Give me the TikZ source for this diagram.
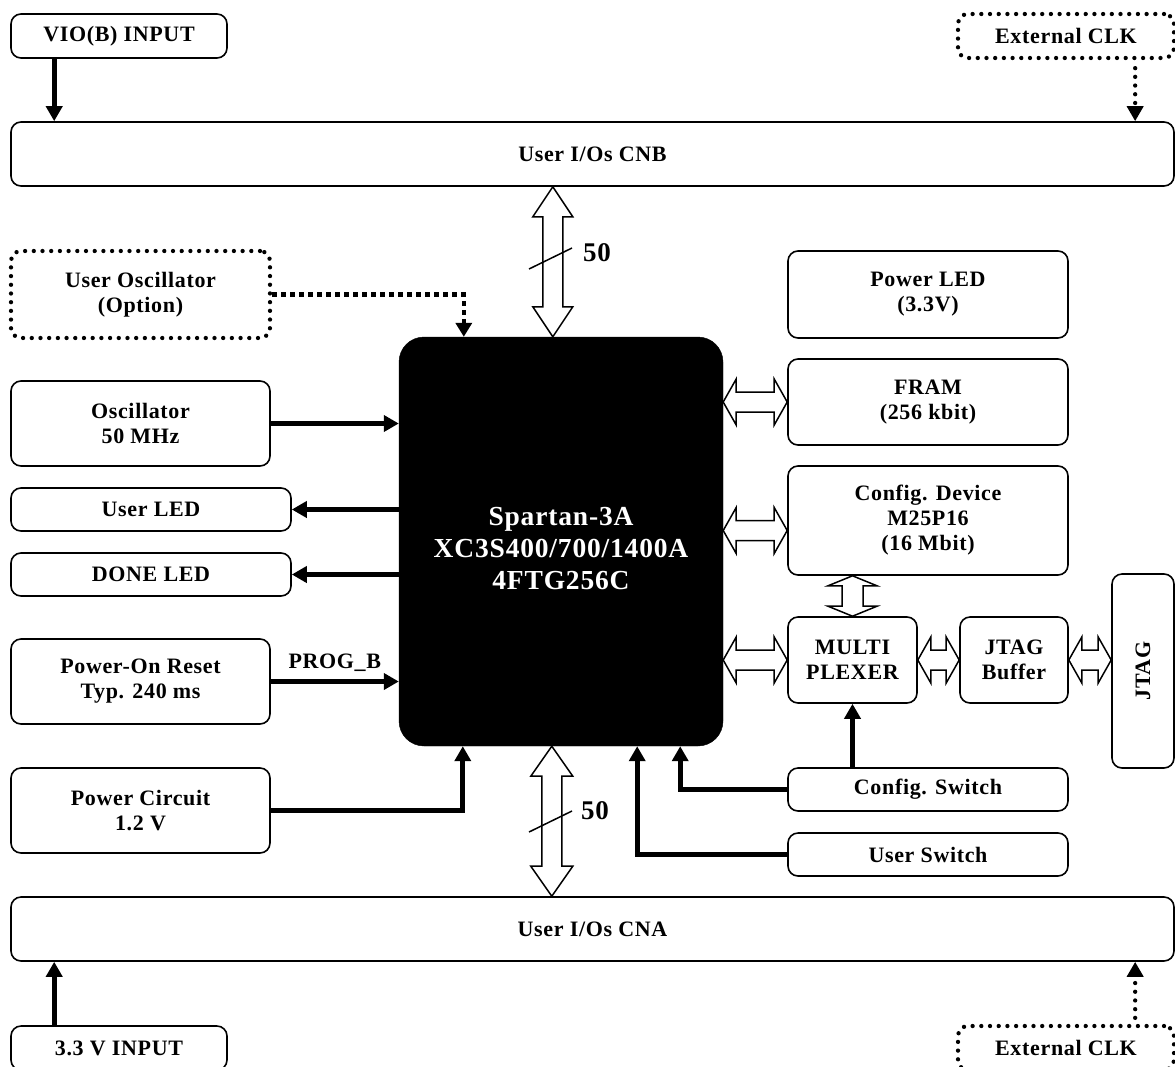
\documentclass[tikz,border=0pt]{standalone}
\usepackage{fontspec}
\setmainfont{Liberation Serif}[LetterSpace=3]
\usetikzlibrary{arrows.meta,calc}
\newcommand\hArr[5]{%
 \draw[hol] let \p1=(#1), \p2=(#2) in
 (\x1,\y1) -- (\x1+#5,\y1+#4) -- (\x1+#5,\y1+#3) -- (\x2-#5,\y1+#3) -- (\x2-#5,\y1+#4) -- (\x2,\y1)
 -- (\x2-#5,\y1-#4) -- (\x2-#5,\y1-#3) -- (\x1+#5,\y1-#3) -- (\x1+#5,\y1-#4) -- cycle;}
\newcommand\vArr[5]{%
 \draw[hol] let \p1=(#1), \p2=(#2) in
 (\x1,\y1) -- (\x1+#4,\y1-#5) -- (\x1+#3,\y1-#5) -- (\x1+#3,\y2+#5) -- (\x1+#4,\y2+#5) -- (\x1,\y2)
 -- (\x1-#4,\y2+#5) -- (\x1-#3,\y2+#5) -- (\x1-#3,\y1-#5) -- (\x1-#4,\y1-#5) -- cycle;}
\begin{document}
\begin{tikzpicture}[x=1pt,y=-1pt,
 every node/.style={font=\fontsize{22}{25}\selectfont\bfseries, align=center},
 blk/.style={draw, line width=1.6pt, rounded corners=10pt, inner sep=0pt},
 dotbox/.style={draw, line width=4.3pt, dash pattern=on 0pt off 8.7pt, line cap=round, rounded corners=10pt, inner sep=0pt},
 chipst/.style={fill=black, draw=black, rounded corners=25pt, inner sep=0pt},
 thk/.style={line width=5pt, -{Triangle[length=15pt,width=16pt]}},
 dotarr/.style={line width=4.3pt, dash pattern=on 0pt off 8.7pt, line cap=round, -{Triangle[length=15pt,width=16pt]}},
 sqarr/.style={line width=4.5pt, dash pattern=on 5pt off 4pt, -{Triangle[length=14pt,width=16pt]}},
 hol/.style={draw, line width=1.5pt, fill=white, line join=miter},
 buslbl/.style={font=\fontsize{27}{30}\selectfont\bfseries},
 chiptxt/.style={font=\fontsize{27.5}{32}\selectfont\bfseries, text=white},
]
\useasboundingbox (0,0) rectangle (1175,1066);
\clip (0,0) rectangle (1175,1066);

% top
\node[blk, minimum width=216pt, minimum height=44pt] (vio) at (119,36) {VIO(B) INPUT};
\node[dotbox, minimum width=216pt, minimum height=44pt] (extT) at (1066,36) {External CLK};
\node[blk, minimum width=1163pt, minimum height=64pt] (cnb) at (592.5,154) {User I/Os CNB};

% left column
\node[dotbox, minimum width=259pt, minimum height=87pt] (uosc) at (140.5,294.5) {User Oscillator\\(Option)};
\node[blk, minimum width=259pt, minimum height=85pt] (osc) at (140.5,423.5) {Oscillator\\50 MHz};
\node[blk, minimum width=280pt, minimum height=43pt] (uled) at (151,509.5) {User LED};
\node[blk, minimum width=280pt, minimum height=43pt] (dled) at (151,574.5) {DONE LED};
\node[blk, minimum width=259pt, minimum height=85pt] (por) at (140.5,681.5) {Power-On Reset\\Typ. 240 ms};
\node[blk, minimum width=259pt, minimum height=85pt] (pwr) at (140.5,810.5) {Power Circuit\\1.2 V};

% chip
\node[chipst, minimum width=324pt, minimum height=409pt] (chip) at (561,541.5) {};
\node[chiptxt] (chipt) at ([yshift=-7pt]chip.center) {Spartan-3A\\XC3S400/700/1400A\\4FTG256C};

% right column
\node[blk, minimum width=280pt, minimum height=87pt] (pled) at (928,294.5) {Power LED\\(3.3V)};
\node[blk, minimum width=280pt, minimum height=86pt] (fram) at (928,402) {FRAM\\(256 kbit)};
\node[blk, minimum width=280pt, minimum height=109pt] (cfg) at (928,520.5) {Config. Device\\M25P16\\(16 Mbit)};
\node[blk, minimum width=129pt, minimum height=86pt] (mux) at (852.5,660) {MULTI\\PLEXER};
\node[blk, minimum width=108pt, minimum height=86pt] (jbuf) at (1014,660) {JTAG\\Buffer};
\node[blk, minimum width=62pt, minimum height=194pt] (jtag) at (1143,671) {\rotatebox{90}{JTAG}};
\node[blk, minimum width=280pt, minimum height=43pt] (csw) at (928,789.5) {Config. Switch};
\node[blk, minimum width=280pt, minimum height=43pt] (usw) at (928,854.5) {User Switch};

% bottom
\node[blk, minimum width=1163pt, minimum height=64pt] (cna) at (592.5,929) {User I/Os CNA};
\node[blk, minimum width=216pt, minimum height=44pt] (v33) at (119,1048) {3.3 V INPUT};
\node[dotbox, minimum width=216pt, minimum height=44pt] (extB) at (1066,1048) {External CLK};

% connectors top/bottom
\coordinate (vioa) at ([xshift=44pt]vio.south west);
\draw[thk] (vioa) -- (vioa |- cnb.north);
\coordinate (exta) at ([xshift=-41pt]extT.south east);
\draw[dotarr, shorten <=8pt] (exta) -- (exta |- cnb.north);
\coordinate (v33a) at ([xshift=44pt]v33.north west);
\draw[thk] (v33a) -- (v33a |- cna.south);
\coordinate (extb) at ([xshift=-41pt]extB.north east);
\draw[dotarr, shorten <=6pt] (extb) -- (extb |- cna.south);

% left connectors
\coordinate (uosca) at ([xshift=65pt]chip.north west);
\draw[sqarr] (uosc.east) -| (uosca);
\draw[thk] (osc.east) -- (osc.east -| chip.west);
\draw[thk] (chip.west |- uled.east) -- (uled.east);
\draw[thk] (chip.west |- dled.east) -- (dled.east);
\draw[thk] (por.east) -- node[above=4pt] (progb) {PROG\_B} (por.east -| chip.west);
\coordinate (pwra) at ([xshift=64pt]chip.south west);
\draw[thk] (pwr.east) -| (pwra);

% switches
\coordinate (cswa) at ([xshift=-43pt]chip.south east);
\draw[thk] (csw.west) -| (cswa);
\coordinate (uswa) at ([xshift=-86pt]chip.south east);
\draw[thk] (usw.west) -| (uswa);
\draw[thk] (csw.north -| mux.south) -- (mux.south);

% buses
\coordinate (tb) at ([xshift=154pt]chip.north west);
\vArr{tb |- cnb.south}{tb}{10pt}{20pt}{30pt}
\draw[line width=1.5pt] (529,269) -- (572,248);
\node[buslbl] (b50t) at (597,253) {50};
\coordinate (bb) at ([xshift=153pt]chip.south west);
\vArr{bb}{bb |- cna.north}{10pt}{21pt}{30pt}
\draw[line width=1.5pt] (529,832) -- (572,811);
\node[buslbl] (b50b) at (595,811) {50};

\hArr{chip.east |- fram.west}{fram.west}{10pt}{23pt}{13pt}
\hArr{$(chip.east |- cfg.west)+(0,10)$}{$(cfg.west)+(0,10)$}{10pt}{23pt}{13pt}
\hArr{chip.east |- mux.west}{mux.west}{10pt}{23pt}{13pt}
\hArr{mux.east}{jbuf.west}{10pt}{23pt}{13pt}
\hArr{jbuf.east}{jbuf.east -| jtag.west}{10pt}{23pt}{13pt}
\vArr{mux.north |- cfg.south}{mux.north}{10.5pt}{24.5pt}{10pt}
\end{tikzpicture}
\end{document}
